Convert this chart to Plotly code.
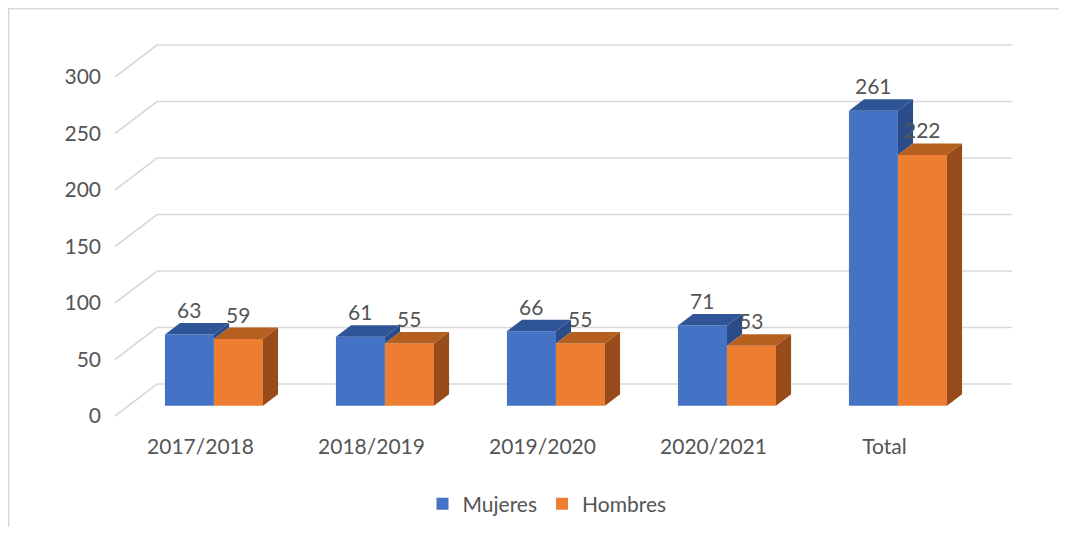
import plotly.graph_objects as go

# ---------------- data ----------------
categories = ["2017/2018", "2018/2019", "2019/2020", "2020/2021", "Total"]
mujeres = [63, 61, 66, 71, 261]
hombres = [59, 55, 55, 53, 222]
y_ticks = [0, 50, 100, 150, 200, 250, 300]
series_names = ["Mujeres", "Hombres"]

# ---------------- layout constants (pixels, page coords) ----------------
W, H = 1051, 519          # figure size
OFF = 8                   # page body margin
FRONT_X0 = 115            # front plane, left edge
CAT_W = 171               # width of one category (px)
FLOOR_Y = 416             # front plane, value 0
PXV = 1.13                # pixels per value unit
DX, DY = 42, 32           # full depth offset (px)
D0, D1 = 0.32, 0.68       # bar front / back depth fractions
BAR_W = 49 / CAT_W        # bar width in category units

XC = FRONT_X0 + CAT_W / 2 + D0 * DX - OFF      # fig px of category 0 center (bar plane)
Y0 = FLOOR_Y - D0 * DY - OFF                    # fig px of value 0 (bar plane)
x_range = [-XC / CAT_W, (W - XC) / CAT_W]
y_range = [(Y0 - H) / PXV, Y0 / PXV]

def proj(u, v, d):
    return u + (d - D0) * DX / CAT_W, v + (d - D0) * DY / PXV

ddx = (D1 - D0) * DX / CAT_W
ddy = (D1 - D0) * DY / PXV

TXT = "#555555"
FONT = "Lato"
GRID = "#D9D9D9"

colors = {
    "front": ["#4472C4", "#ED7D31"],
    "top": ["#2F5597", "#B5601F"],
    "side": ["#2B4C88", "#984B1B"],
}

fig = go.Figure()

n = len(categories)
# gridlines (back wall + left wall)
shapes = []
for g in y_ticks:
    ax, ay = proj(-0.5, g, 0)
    bx, by = proj(-0.5, g, 1)
    cx, cy = proj(n - 0.5, g, 1)
    shapes.append(dict(type="path", xref="x", yref="y", layer="below",
                       path=f"M{ax},{ay} L{bx},{by} L{cx},{cy}",
                       line=dict(color=GRID, width=1.6)))

# front faces as bars
for s, (name, vals) in enumerate(zip(series_names, [mujeres, hombres])):
    fig.add_trace(go.Bar(
        x=list(range(n)), y=vals, name=name,
        marker=dict(color=colors["front"][s], line=dict(width=0)),
        hoverinfo="skip",
    ))

# top and side faces
def poly(xs, ys, color):
    fig.add_trace(go.Scatter(
        x=xs + [xs[0]], y=ys + [ys[0]], fill="toself", fillcolor=color,
        mode="lines", line=dict(width=0, color=color),
        showlegend=False, hoverinfo="skip"))

for i in range(n):
    vb, vo = mujeres[i], hombres[i]
    # blue bar: x from i-BAR_W to i
    x0, x1 = i - BAR_W, i
    poly([x0, x1, x1 + ddx, x0 + ddx], [vb, vb, vb + ddy, vb + ddy], colors["top"][0])
    if vb > vo:
        poly([x1, x1, x1 + ddx, x1 + ddx], [vo, vb, vb + ddy, vo + ddy], colors["side"][0])
    # orange bar: x from i to i+BAR_W
    x0, x1 = i, i + BAR_W
    poly([x0, x1, x1 + ddx, x0 + ddx], [vo, vo, vo + ddy, vo + ddy], colors["top"][1])
    poly([x1, x1, x1 + ddx, x1 + ddx], [0, vo, vo + ddy, ddy], colors["side"][1])

# data labels
annotations = []
for i in range(n):
    for s, vals in enumerate([mujeres, hombres]):
        cx = i - BAR_W / 2 if s == 0 else i + BAR_W / 2
        annotations.append(dict(x=cx, y=vals[i], xref="x", yref="y", text=str(vals[i]),
                                showarrow=False, yshift=25, yanchor="middle",
                                font=dict(family=FONT, size=21, color=TXT)))

# frame lines (left & top)
shapes.append(dict(type="line", xref="paper", yref="paper", x0=0, x1=0, y0=0, y1=1,
                   line=dict(color=GRID, width=3), layer="above"))
shapes.append(dict(type="line", xref="paper", yref="paper", x0=0, x1=1, y0=1, y1=1,
                   line=dict(color=GRID, width=3), layer="above"))

y_off = D0 * DY / PXV
x_off = D0 * DX / CAT_W
label_line_px = 432 - OFF  # where category tick labels hang from

fig.update_layout(
    width=W, height=H,
    margin=dict(l=0, r=0, t=0, b=0),
    paper_bgcolor="white", plot_bgcolor="white",
    barmode="group", bargap=1 - 2 * BAR_W, bargroupgap=0,
    showlegend=True,
    legend=dict(orientation="h", x=(547 - OFF) / W, xanchor="center", y=1 - (504 - OFF) / H,
                yanchor="middle", font=dict(family=FONT, size=21, color=TXT),
                itemwidth=30, traceorder="normal"),
    xaxis=dict(range=x_range, showgrid=False, zeroline=False, showticklabels=False,
               showline=False, fixedrange=True),
    yaxis=dict(range=y_range, showgrid=False, zeroline=False, showticklabels=False,
               showline=False, fixedrange=True),
    xaxis2=dict(range=[x_range[0] + x_off, x_range[1] + x_off], overlaying="x",
                anchor="free", position=1 - label_line_px / H, side="bottom",
                tickmode="array", tickvals=list(range(n)), ticktext=categories,
                showgrid=False, zeroline=False, showline=False, ticks="",
                tickfont=dict(family=FONT, size=21, color=TXT)),
    yaxis2=dict(range=[y_range[0] + y_off, y_range[1] + y_off], overlaying="y",
                anchor="free", position=(FRONT_X0 - OFF - 14) / W, side="left",
                tickmode="array", tickvals=y_ticks, ticktext=[str(t) for t in y_ticks],
                showgrid=False, zeroline=False, showline=False, ticks="",
                tickfont=dict(family=FONT, size=21, color=TXT)),
    shapes=shapes,
    annotations=annotations,
)

# dummy invisible trace to activate the secondary axes
fig.add_trace(go.Scatter(x=[0], y=[0], xaxis="x2", yaxis="y2", mode="markers",
                         marker=dict(opacity=0), showlegend=False, hoverinfo="skip"))

fig.write_html("out.html")
